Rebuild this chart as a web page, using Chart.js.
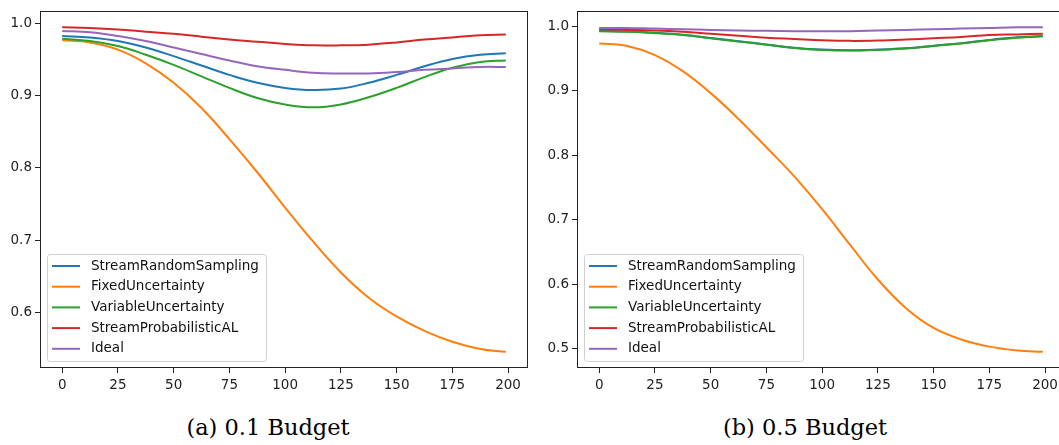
<!DOCTYPE html>
<html>
<head>
<meta charset="utf-8">
<script src="https://cdn.jsdelivr.net/npm/chart.js@4.4.1/dist/chart.umd.min.js"></script>
<style>
	html, body { margin: 0; padding: 0; background: #fff; overflow: hidden; }
	body { width: 1059px; height: 445px; position: relative; }
	.plot { position: absolute; top: 0; }
	#wrapA { left: 0; }
	#wrapB { left: 530px; }
	.caption {
		position: absolute; top: 414px; line-height: 26px;
		font-family: 'DejaVu Serif', serif; font-size: 22.5px; color: #000;
		transform: translateX(-50%); white-space: nowrap;
	}
</style>
</head>
<body>
<div class="plot" id="wrapA"><canvas id="c1" width="530" height="400"></canvas></div>
<div class="plot" id="wrapB"><canvas id="c2" width="540" height="400"></canvas></div>
<div class="caption" style="left:268px">(a) 0.1 Budget</div>
<div class="caption" style="left:805px">(b) 0.5 Budget</div>

<script>
// sample positions (iterations)
var steps = [0, 12.5, 25, 37.5, 50, 62.5, 75, 87.5, 100, 112.5, 125, 137.5, 150, 162.5, 175, 187.5, 199];

var seriesNames = ['StreamRandomSampling', 'FixedUncertainty', 'VariableUncertainty', 'StreamProbabilisticAL', 'Ideal'];
var seriesColors = ['#1f77b4', '#ff7f0e', '#2ca02c', '#d62728', '#9467bd'];

// (a) 0.1 budget
var lowRandom   = [0.983, 0.981, 0.976, 0.967, 0.955, 0.942, 0.929, 0.918, 0.911, 0.908, 0.910, 0.918, 0.929, 0.941, 0.951, 0.957, 0.959];
var lowFixed    = [0.977, 0.974, 0.964, 0.945, 0.918, 0.883, 0.840, 0.794, 0.745, 0.698, 0.655, 0.620, 0.594, 0.574, 0.559, 0.549, 0.545];
var lowVariable = [0.979, 0.976, 0.969, 0.957, 0.943, 0.927, 0.911, 0.897, 0.888, 0.884, 0.888, 0.898, 0.911, 0.926, 0.939, 0.947, 0.949];
var lowProbAL   = [0.995, 0.994, 0.992, 0.989, 0.986, 0.982, 0.978, 0.975, 0.972, 0.970, 0.970, 0.971, 0.974, 0.978, 0.981, 0.984, 0.985];
var lowIdeal    = [0.990, 0.988, 0.983, 0.976, 0.967, 0.958, 0.949, 0.941, 0.936, 0.932, 0.931, 0.931, 0.933, 0.936, 0.938, 0.940, 0.940];

// (b) 0.5 budget
var highRandom   = [0.9925, 0.9915, 0.9895, 0.9865, 0.9815, 0.9765, 0.9715, 0.9665, 0.9635, 0.9625, 0.9635, 0.9655, 0.9695, 0.9735, 0.9785, 0.9825, 0.9845];
var highFixed    = [0.973, 0.969, 0.955, 0.930, 0.896, 0.856, 0.812, 0.767, 0.716, 0.661, 0.607, 0.563, 0.532, 0.514, 0.503, 0.497, 0.495];
var highVariable = [0.992, 0.991, 0.989, 0.986, 0.981, 0.976, 0.971, 0.966, 0.963, 0.962, 0.963, 0.965, 0.969, 0.973, 0.978, 0.982, 0.984];
var highProbAL   = [0.995, 0.994, 0.993, 0.991, 0.988, 0.985, 0.982, 0.980, 0.978, 0.977, 0.9775, 0.979, 0.981, 0.983, 0.986, 0.987, 0.988];
var highIdeal    = [0.997, 0.997, 0.996, 0.995, 0.994, 0.993, 0.9925, 0.992, 0.992, 0.992, 0.993, 0.994, 0.995, 0.996, 0.997, 0.998, 0.998];

var xTickValues = [0, 25, 50, 75, 100, 125, 150, 175, 200];
var yTicksLow = [0.6, 0.7, 0.8, 0.9, 1.0];
var yTicksHigh = [0.5, 0.6, 0.7, 0.8, 0.9, 1.0];

var tickFont = { family: 'DejaVu Sans', size: 13.5 };
var ink = '#222';

// frame round the axes plus a matplotlib-style legend in the lower left corner
var frameLegend = {
	id: 'frameLegend',
	afterDraw: function(chart) {
		var a = chart.chartArea;
		var ctx = chart.ctx;
		ctx.save();
		ctx.strokeStyle = ink;
		ctx.lineWidth = 1;
		ctx.strokeRect(Math.round(a.left) + 0.5, Math.round(a.top) + 0.5,
			Math.round(a.right - a.left) - 1, Math.round(a.bottom - a.top) - 1);

		var bw = 219, bh = 107;
		var bx = a.left + 7.5, by = a.bottom - 6.5 - bh;
		ctx.beginPath();
		ctx.roundRect(bx, by, bw, bh, 3);
		ctx.fillStyle = 'rgba(255,255,255,0.8)';
		ctx.fill();
		ctx.strokeStyle = '#d0d0d0';
		ctx.stroke();

		ctx.font = '13.5px "DejaVu Sans"';
		ctx.textBaseline = 'middle';
		ctx.textAlign = 'left';
		chart.data.datasets.forEach(function(ds, i) {
			var y = by + 11.5 + i * 20.7;
			ctx.beginPath();
			ctx.strokeStyle = ds.borderColor;
			ctx.lineWidth = 2;
			ctx.moveTo(bx + 4.5, y);
			ctx.lineTo(bx + 32.5, y);
			ctx.stroke();
			ctx.fillStyle = '#111';
			ctx.fillText(ds.label, bx + 43.5, y);
		});
		ctx.restore();
	}
};

function buildChart(id, series, yTicks, axisWidth, rightPad) {
	var lo = Infinity, hi = -Infinity;
	series.forEach(function(s) {
		s.forEach(function(v) { lo = Math.min(lo, v); hi = Math.max(hi, v); });
	});
	var yPad = (hi - lo) * 0.05;
	var xPad = (steps[steps.length - 1] - steps[0]) * 0.05;

	var datasets = series.map(function(s, i) {
		return {
			label: seriesNames[i],
			data: s.map(function(v, j) { return { x: steps[j], y: v }; }),
			borderColor: seriesColors[i],
			borderWidth: 2,
			pointRadius: 0,
			fill: false,
			tension: 0.4,
			order: series.length - i
		};
	});

	return new Chart(document.getElementById(id), {
		type: 'line',
		data: { datasets: datasets },
		options: {
			responsive: false,
			animation: false,
			layout: { padding: { top: 6, right: rightPad, left: 0, bottom: 0 } },
			plugins: { legend: { display: false }, tooltip: { enabled: false } },
			scales: {
				x: {
					type: 'linear',
					min: steps[0] - xPad,
					max: steps[steps.length - 1] + xPad,
					afterBuildTicks: function(s) { s.ticks = xTickValues.map(function(v) { return { value: v }; }); },
					afterFit: function(s) { s.height = 32; },
					grid: { drawOnChartArea: false, drawTicks: true, tickLength: 5, color: ink, lineWidth: 1 },
					border: { display: false },
					ticks: { color: ink, font: tickFont, padding: 4, maxRotation: 0, autoSkip: false,
						callback: function(v) { return String(v); } }
				},
				y: {
					type: 'linear',
					min: lo - yPad,
					max: hi + yPad,
					afterBuildTicks: function(s) { s.ticks = yTicks.map(function(v) { return { value: v }; }); },
					afterFit: function(s) { s.width = axisWidth; },
					grid: { drawOnChartArea: false, drawTicks: true, tickLength: 5, color: ink, lineWidth: 1 },
					border: { display: false },
					ticks: { color: ink, font: tickFont, padding: 3, autoSkip: false,
						callback: function(v) { return v.toFixed(1); } }
				}
			}
		},
		plugins: [frameLegend]
	});
}

buildChart('c1', [lowRandom, lowFixed, lowVariable, lowProbAL, lowIdeal], yTicksLow, 40, 2);
buildChart('c2', [highRandom, highFixed, highVariable, highProbAL, highIdeal], yTicksHigh, 47, 5);
</script>
</body>
</html>
